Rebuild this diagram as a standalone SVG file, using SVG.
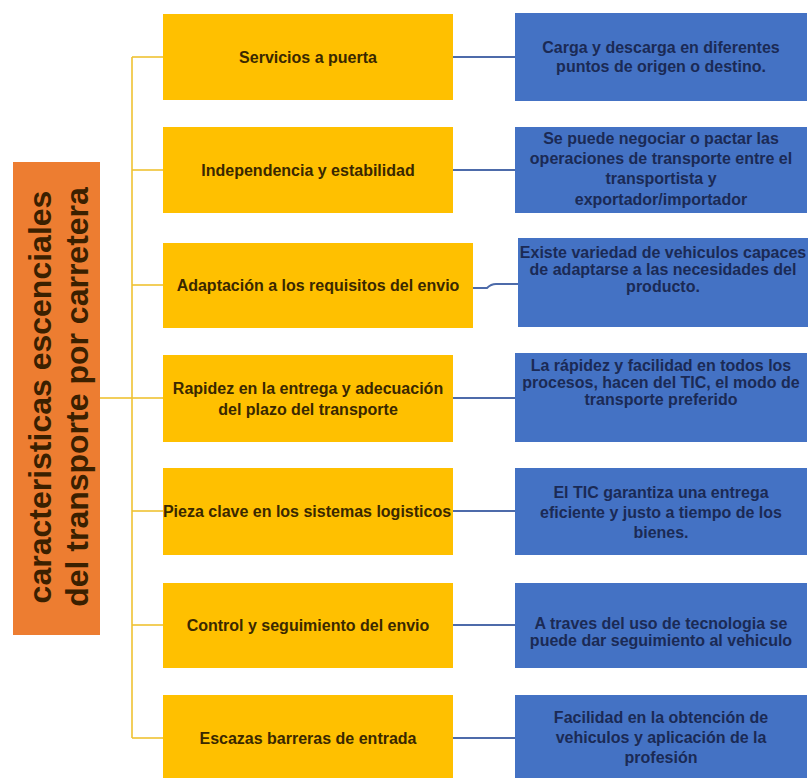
<svg xmlns="http://www.w3.org/2000/svg" width="809" height="778" viewBox="0 0 809 778">
<style>
.y{fill:#FFC000}
.b{fill:#4472C4}
.o{fill:#ED7D31}
.ty{font-family:"Liberation Sans",Arial,sans-serif;font-weight:bold;font-size:16px;fill:#3a2800;text-anchor:middle}
.tb{font-family:"Liberation Sans",Arial,sans-serif;font-weight:bold;font-size:16px;fill:#1b2a55;text-anchor:middle}
.to{font-family:"Liberation Sans",Arial,sans-serif;font-weight:bold;font-size:32px;fill:#3a2000;text-anchor:middle}
.cy{stroke:#EFC232;stroke-width:1.6;fill:none}
.cb{stroke:#4D6BAA;stroke-width:2;fill:none}
</style>
<rect width="809" height="778" fill="#ffffff"/>
<g id="connectors">
<line class="cy" x1="100" y1="398" x2="132" y2="398"/>
<line class="cy" x1="132" y1="57" x2="132" y2="738"/>
<line class="cy" x1="132" y1="57" x2="163" y2="57"/>
<line class="cy" x1="132" y1="170" x2="163" y2="170"/>
<line class="cy" x1="132" y1="285" x2="163" y2="285"/>
<line class="cy" x1="132" y1="398" x2="163" y2="398"/>
<line class="cy" x1="132" y1="511" x2="163" y2="511"/>
<line class="cy" x1="132" y1="625" x2="163" y2="625"/>
<line class="cy" x1="132" y1="738" x2="163" y2="738"/>
<line class="cb" x1="453" y1="57" x2="515" y2="57"/>
<line class="cb" x1="453" y1="170" x2="515" y2="170"/>
<path class="cb" d="M473 288 L487 288 Q491 284 496 284 L518 284"/>
<line class="cb" x1="453" y1="398" x2="515" y2="398"/>
<line class="cb" x1="453" y1="511" x2="515" y2="511"/>
<line class="cb" x1="453" y1="625" x2="515" y2="625"/>
<line class="cb" x1="453" y1="738" x2="515" y2="738"/>
</g>
<g id="root">
<rect class="o" x="13" y="162" width="87" height="473"/>
<text class="to" transform="translate(51,397) rotate(-90)">caracteristicas escenciales</text>
<text class="to" transform="translate(88,397) rotate(-90)">del transporte por carretera</text>
</g>
<g id="y1"><rect class="y" x="163" y="14" width="290" height="86"/><text class="ty" x="308" y="63">Servicios a puerta</text></g>
<g id="y2"><rect class="y" x="163" y="127" width="290" height="86"/><text class="ty" x="308" y="176">Independencia y estabilidad</text></g>
<g id="y3"><rect class="y" x="163" y="243" width="310" height="85"/><text class="ty" x="318" y="291">Adaptación a los requisitos del envio</text></g>
<g id="y4"><rect class="y" x="163" y="355" width="290" height="87"/><text class="ty" x="308" y="394">Rapidez en la entrega y adecuación</text><text class="ty" x="308" y="415">del plazo del transporte</text></g>
<g id="y5"><rect class="y" x="163" y="468" width="290" height="87"/><text class="ty" x="307" y="517">Pieza clave en los sistemas logisticos</text></g>
<g id="y6"><rect class="y" x="163" y="583" width="290" height="85"/><text class="ty" x="308" y="631">Control y seguimiento del envio</text></g>
<g id="y7"><rect class="y" x="163" y="695" width="290" height="83"/><text class="ty" x="308" y="744">Escazas barreras de entrada</text></g>
<g id="b1"><rect class="b" x="515" y="13" width="292" height="88"/><text class="tb" x="661" y="53">Carga y descarga en diferentes</text><text class="tb" x="661" y="72">puntos de origen o destino.</text></g>
<g id="b2"><rect class="b" x="515" y="127" width="292" height="86"/><text class="tb" x="661" y="144">Se puede negociar o pactar las</text><text class="tb" x="661" y="164">operaciones de transporte entre el</text><text class="tb" x="661" y="184">transportista y</text><text class="tb" x="661" y="205">exportador/importador</text></g>
<g id="b3"><rect class="b" x="518" y="238" width="290" height="89"/><text class="tb" x="663" y="258">Existe variedad de vehiculos capaces</text><text class="tb" x="663" y="275">de adaptarse  a las necesidades del</text><text class="tb" x="663" y="292">producto.</text></g>
<g id="b4"><rect class="b" x="515" y="353" width="292" height="89"/><text class="tb" x="661" y="371">La rápidez y facilidad en todos los</text><text class="tb" x="661" y="388">procesos, hacen del TIC, el modo de</text><text class="tb" x="661" y="405">transporte preferido</text></g>
<g id="b5"><rect class="b" x="515" y="468" width="292" height="87"/><text class="tb" x="661" y="498">El TIC garantiza una entrega</text><text class="tb" x="661" y="518">eficiente y justo a tiempo de los</text><text class="tb" x="661" y="538">bienes.</text></g>
<g id="b6"><rect class="b" x="515" y="583" width="292" height="85"/><text class="tb" x="661" y="629">A traves del uso de tecnologia  se</text><text class="tb" x="661" y="646">puede dar seguimiento al vehiculo</text></g>
<g id="b7"><rect class="b" x="515" y="695" width="292" height="83"/><text class="tb" x="661" y="723">Facilidad en la obtención de</text><text class="tb" x="661" y="743">vehiculos y aplicación de la</text><text class="tb" x="661" y="763">profesión</text></g>
</svg>
